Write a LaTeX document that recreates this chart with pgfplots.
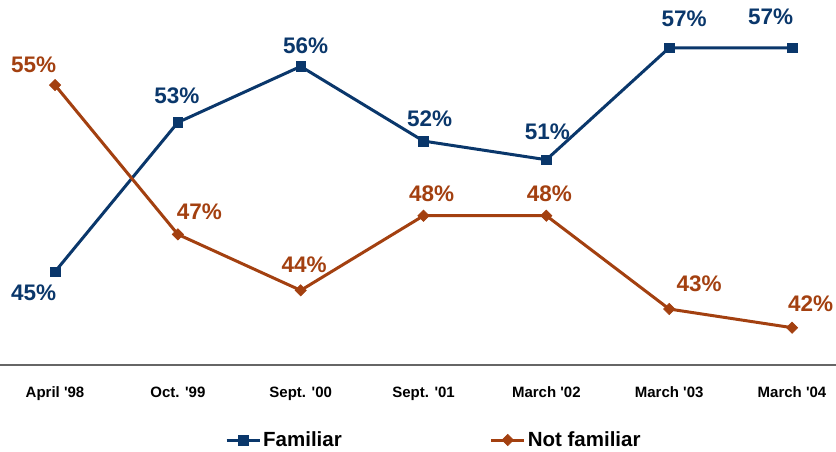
\documentclass[border=0pt]{standalone}
\usepackage{fontspec}
\setmainfont{Liberation Sans}
\usepackage{pgfplots}
\pgfplotsset{compat=1.18}
\definecolor{navy}{RGB}{10,55,107}
\definecolor{rust}{RGB}{163,64,16}
\newcommand\lf{\fontsize{22.5bp}{25bp}\selectfont\bfseries}
\newcommand\lab[5]{\node[text=#1, font=\lf, inner sep=0pt, xshift=#4bp, yshift=#5bp] at (axis cs:#2) {#3};}
\begin{document}
\begin{tikzpicture}
\path[use as bounding box] (0,-87bp) rectangle (836bp,365bp);
\begin{axis}[
  at={(0,0)}, anchor=south west,
  scale only axis, width=836bp, height=365bp,
  xmin=-0.448, xmax=6.358, ymin=40, ymax=59.56,
  axis x line*=bottom, axis y line=none,
  x axis line style={draw=black!60, line width=1.5bp},
  xtick={0,1,2,3,4,5,6},
  xticklabels={April \textquotesingle98, Oct. \textquotesingle99, Sept. \textquotesingle00, Sept. \textquotesingle01, March \textquotesingle02, March \textquotesingle03, March \textquotesingle04},
  major tick length=0pt,
  xticklabel style={font=\fontsize{15bp}{18bp}\selectfont\bfseries, anchor=base, yshift=-32bp, text=black},
  clip=false,
  legend columns=2,
  legend style={at={(axis description cs:0.2691,-0.2055)}, anchor=west, draw=none, fill=none, inner sep=0pt,
    font=\fontsize{20.5bp}{23bp}\selectfont\bfseries,
    /tikz/every even column/.append style={column sep=146bp},
    nodes={inner sep=2bp}},
  legend image code/.code={\draw[mark repeat=2,mark phase=2,#1] plot coordinates {(0bp,0bp) (16.5bp,0bp) (33bp,0bp)};},
]
\addplot[navy, line width=3bp, mark=square*, mark size=4.8bp, mark options={solid, line width=0.6bp}]
  coordinates {(0,45)(1,53)(2,56)(3,52)(4,51)(5,57)(6,57)};
\addlegendentry{Familiar}
\addplot[rust, line width=3bp, mark=square*, mark size=4bp, mark options={solid, rotate=45, line width=0.6bp}]
  coordinates {(0,55)(1,47)(2,44)(3,48)(4,48)(5,43)(6,42)};
\addlegendentry{Not familiar}
% Familiar labels
\lab{navy}{0,45}{45\%}{-21.5}{-21.5}
\lab{navy}{1,53}{53\%}{-1}{27}
\lab{navy}{2,56}{56\%}{5}{21}
\lab{navy}{3,52}{52\%}{6}{22}
\lab{navy}{4,51}{51\%}{1}{27.5}
\lab{navy}{5,57}{57\%}{15}{29}
\lab{navy}{6,57}{57\%}{-21.5}{31}
% Not familiar labels
\lab{rust}{0,55}{55\%}{-21.5}{20}
\lab{rust}{1,47}{47\%}{21.5}{22.5}
\lab{rust}{2,44}{44\%}{3.5}{25.5}
\lab{rust}{3,48}{48\%}{8}{22}
\lab{rust}{4,48}{48\%}{3}{22}
\lab{rust}{5,43}{43\%}{30}{25.5}
\lab{rust}{6,42}{42\%}{18.5}{23.5}
\end{axis}
\end{tikzpicture}
\end{document}
